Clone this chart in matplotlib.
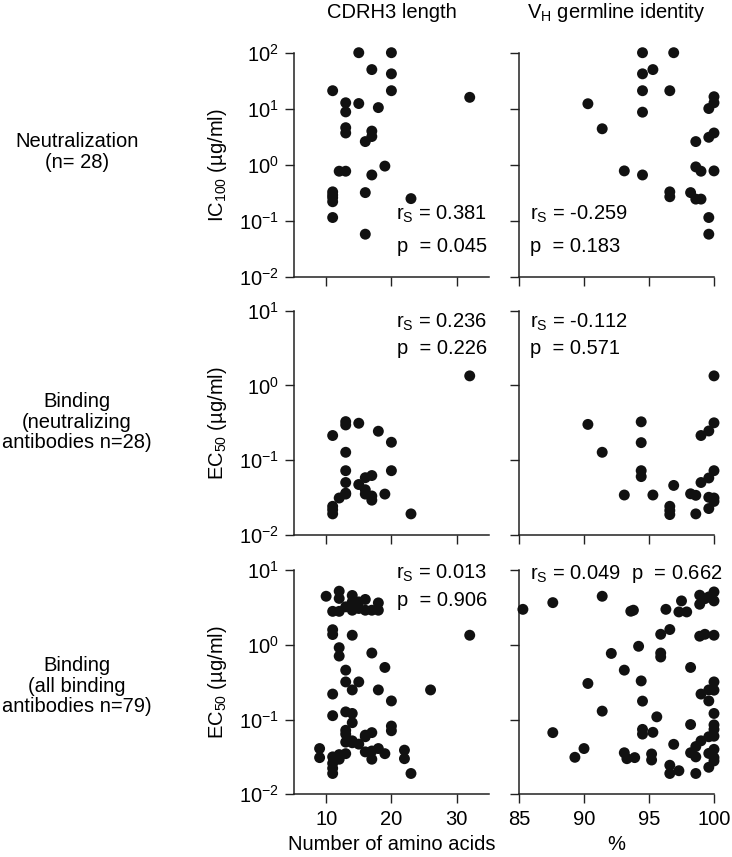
import matplotlib
matplotlib.use("Agg")
import matplotlib.pyplot as plt
from matplotlib.ticker import LogLocator, NullLocator, FixedLocator, NullFormatter

plt.rcParams["font.family"] = ["Liberation Sans", "DejaVu Sans"]
plt.rcParams["mathtext.fontset"] = "custom"
plt.rcParams["mathtext.rm"] = "Liberation Sans"
plt.rcParams["mathtext.it"] = "Liberation Sans:italic"
plt.rcParams["mathtext.default"] = "regular"

FS = 14.5

# ---------------------------------------------------------------- data
# row 1: neutralization (IC100)
cdr_neut_len = [15, 20, 17, 20, 11, 20, 13, 15, 13, 18, 13, 13, 17, 17, 16, 12, 13,
                19, 17, 16, 11, 11, 11, 11, 11, 16, 23, 32]
cdr_neut_ic100 = [100, 100, 50, 42, 21, 21, 12.8, 12.4, 8.8, 10.5, 4.6, 3.7, 4.0, 3.2,
                  2.6, 0.77, 0.77, 0.95, 0.66, 0.32, 0.33, 0.29, 0.26, 0.22, 0.115,
                  0.058, 0.25, 16]
vh_neut_id = [94.5, 96.9, 95.3, 94.5, 94.5, 96.6, 90.3, 94.5, 91.4, 100, 100, 99.6, 100,
              99.6, 98.6, 93.1, 94.5, 98.6, 99.0, 100, 96.6, 96.6, 98.2, 98.6, 99.0,
              99.6, 99.6]
vh_neut_ic100 = [100, 100, 50, 42, 21, 21, 12.3, 8.7, 4.4, 16.4, 12.8, 10.1, 3.7, 3.1,
                 2.6, 0.78, 0.66, 0.92, 0.77, 0.78, 0.33, 0.27, 0.32, 0.245, 0.245,
                 0.115, 0.058]

# row 2: binding of the neutralizing antibodies (EC50)
cdr_nbind_len = [11, 13, 13, 15, 18, 20, 13, 13, 20, 13, 16, 17, 15, 12, 13, 16, 17, 17,
                 19, 11, 11, 11, 23, 32, 16, 13]
cdr_nbind_ec50 = [0.213, 0.327, 0.295, 0.311, 0.243, 0.173, 0.127, 0.072, 0.072, 0.050,
                  0.058, 0.062, 0.047, 0.031, 0.035, 0.035, 0.033, 0.029, 0.035, 0.024,
                  0.0216, 0.019, 0.019, 1.34, 0.040, 0.036]
vh_nbind_id = [100, 90.3, 94.4, 100, 99.6, 99.0, 91.4, 94.4, 94.4, 94.4, 100, 99.6, 99.0,
               96.9, 93.1, 95.3, 98.2, 98.6, 99.6, 100, 100, 99.6, 96.6, 96.6, 96.6, 98.6]
vh_nbind_ec50 = [1.34, 0.30, 0.325, 0.315, 0.245, 0.213, 0.127, 0.171, 0.072, 0.060,
                 0.072, 0.0575, 0.050, 0.0457, 0.034, 0.034, 0.0353, 0.0337, 0.0317,
                 0.031, 0.0279, 0.0224, 0.024, 0.0211, 0.0186, 0.019]

# row 3: all binding antibodies (EC50)
cdr_all_len = [10, 12, 12, 11, 12, 14, 14, 14, 13, 15, 16, 16, 15, 18, 18, 11, 11, 14,
               12, 12, 17, 19, 13, 13, 15, 14, 18, 11, 20, 11, 13, 14, 14, 20, 20, 13,
               13, 17, 16, 13, 14, 15, 16, 17, 18, 19, 17, 9, 9, 11, 12, 13, 11, 11,
               11, 22, 22, 23, 26, 32, 17, 12, 16, 14]
cdr_all_ec50 = [4.49, 5.25, 4.2, 2.82, 2.82, 4.6, 3.77, 2.92, 3.24, 3.77, 4.07, 2.92,
                3.08, 3.66, 2.92, 1.6, 1.38, 1.35, 0.92, 0.71, 0.78, 0.50, 0.46, 0.32,
                0.32, 0.25, 0.25, 0.22, 0.178, 0.113, 0.127, 0.121, 0.091, 0.082, 0.071,
                0.072, 0.064, 0.067, 0.059, 0.050, 0.052, 0.047, 0.037, 0.038, 0.041,
                0.035, 0.0295, 0.041, 0.031, 0.0317, 0.0295, 0.035, 0.026, 0.0223,
                0.019, 0.039, 0.030, 0.019, 0.25, 1.35, 2.92, 0.034, 0.062, 0.049]
vh_all_id = [85.3, 87.6, 91.4, 93.6, 93.8, 96.3, 97.5, 97.3, 97.9, 98.9, 98.9, 99.3, 100,
             100, 99.6, 95.9, 96.6, 98.9, 99.3, 100, 94.2, 92.1, 95.9, 95.9, 98.2, 93.1,
             90.3, 94.4, 100, 99.6, 100, 99.0, 99.6, 94.5, 91.4, 100, 95.6, 98.2, 100,
             100, 87.6, 94.5, 94.5, 95.3, 99.6, 100, 99.0, 98.6, 96.9, 90.0, 89.3, 93.1,
             93.3, 93.9, 95.2, 95.2, 98.2, 98.6, 99.6, 100, 100, 100, 99.6, 96.6, 96.6,
             97.3, 98.6]
vh_all_ec50 = [3.0, 3.69, 4.49, 2.83, 2.92, 3.0, 3.89, 2.77, 2.77, 4.64, 3.51, 4.17, 5.13,
               3.89, 4.4, 1.39, 1.61, 1.31, 1.39, 1.35, 0.96, 0.77, 0.78, 0.69, 0.50,
               0.46, 0.305, 0.33, 0.32, 0.25, 0.248, 0.22, 0.178, 0.177, 0.13, 0.121,
               0.109, 0.086, 0.085, 0.074, 0.067, 0.074, 0.064, 0.0676, 0.059, 0.060,
               0.052, 0.0436, 0.0467, 0.041, 0.0313, 0.036, 0.030, 0.031, 0.0347,
               0.0288, 0.036, 0.0317, 0.0353, 0.040, 0.031, 0.028, 0.023, 0.0245, 0.019,
               0.0207, 0.019]

row_labels = ["Neutralization\n(n= 28)",
              "Binding\n(neutralizing\nantibodies n=28)",
              "Binding\n(all binding\nantibodies n=79)"]
y_labels = ["IC$_{100}$ (µg/ml)", "EC$_{50}$ (µg/ml)", "EC$_{50}$ (µg/ml)"]
col_titles = ["CDRH3 length", "V$_{\\rm H}$ germline identity"]
x_labels = ["Number of amino acids", "%"]
stats_left = [("r$_{\\rm S}$ = 0.381", "p  = 0.045"),
              ("r$_{\\rm S}$ = 0.236", "p  = 0.226"),
              ("r$_{\\rm S}$ = 0.013", "p  = 0.906")]
stats_right = [("r$_{\\rm S}$ = -0.259", "p  = 0.183"),
               ("r$_{\\rm S}$ = -0.112", "p  = 0.571"),
               ("r$_{\\rm S}$ = 0.049  p  = 0.662", None)]

left_data = [(cdr_neut_len, cdr_neut_ic100), (cdr_nbind_len, cdr_nbind_ec50),
             (cdr_all_len, cdr_all_ec50)]
right_data = [(vh_neut_id, vh_neut_ic100), (vh_nbind_id, vh_nbind_ec50),
              (vh_all_id, vh_all_ec50)]
ylims = [(1e-2, 1e2), (1e-2, 1e1), (1e-2, 1e1)]

# ---------------------------------------------------------------- layout
W, H = 732, 857
fig = plt.figure(figsize=(W / 100, H / 100), dpi=100)

col_x = [(293.5, 489.3), (519, 714)]
row_y = [(52.7, 277.0), (310.7, 534.7), (570.3, 794.3)]
row_label_y = [152, 422, 686]
# (y of first line, y of second line) of the r_S / p texts, axes fraction
stat_y = [(0.28, 0.135), (0.95, 0.83), (0.985, 0.865)]


def style(ax, xlim, xticks, ylim, show_x, show_y):
    ax.set_yscale("log")
    ax.set_xlim(*xlim)
    ax.set_ylim(*ylim)
    ax.xaxis.set_major_locator(FixedLocator(xticks))
    ax.yaxis.set_major_locator(LogLocator(base=10, numticks=10))
    ax.yaxis.set_minor_locator(NullLocator())
    if not show_x:
        ax.xaxis.set_major_formatter(NullFormatter())
    if not show_y:
        ax.yaxis.set_major_formatter(NullFormatter())
    for s in ("top", "right"):
        ax.spines[s].set_visible(False)
    for s in ("left", "bottom"):
        ax.spines[s].set_linewidth(1.1)
        ax.spines[s].set_color("#222222")
    ax.tick_params(direction="out", length=6.5, width=1.0, color="#222222",
                   labelsize=FS)
    ax.tick_params(axis="y", pad=4)
    ax.tick_params(axis="x", pad=5)
    ax.patch.set_alpha(0)


for r in range(3):
    y0, y1 = row_y[r]
    for c in range(2):
        x0, x1 = col_x[c]
        ax = fig.add_axes([x0 / W, (H - y1) / H, (x1 - x0) / W, (y1 - y0) / H])
        if c == 0:
            xs, ys = left_data[r]
            style(ax, (5, 35), [10, 20, 30], ylims[r], r == 2, True)
            ax.set_ylabel(y_labels[r], fontsize=FS)
            ax.yaxis.set_label_coords(-0.33, 0.5)
            txt = stats_left[r]
            ha, tx = "right", 0.99
        else:
            xs, ys = right_data[r]
            style(ax, (85, 100), [85, 90, 95, 100], ylims[r], r == 2, False)
            txt = stats_right[r]
            ha, tx = "left", 0.056
        ax.scatter(xs, ys, s=62, color="#111111", edgecolors="none", clip_on=False,
                   zorder=3)
        ax.text(tx, stat_y[r][0], txt[0], transform=ax.transAxes, ha=ha, va="center",
                fontsize=FS)
        if txt[1]:
            ax.text(tx, stat_y[r][1], txt[1], transform=ax.transAxes, ha=ha,
                    va="center", fontsize=FS)
        if r == 2:
            ax.set_xlabel(x_labels[c], fontsize=FS, labelpad=4)
        if r == 0:
            ax.set_title(col_titles[c], fontsize=FS, pad=25)

    fig.text(77 / W, 1 - row_label_y[r] / H, row_labels[r], ha="center", va="center",
             fontsize=FS, linespacing=1.1)

fig.savefig("out.png", dpi=100)
